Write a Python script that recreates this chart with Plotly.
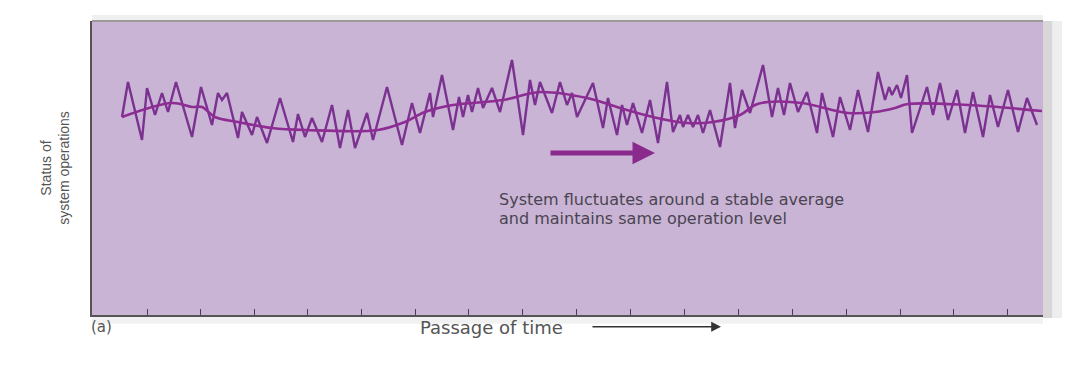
import plotly.graph_objects as go

# Jagged "status" series (time units, status units)
jag_t = [30, 36, 50, 55, 63, 70, 76, 84, 100, 109, 120, 126, 130, 135, 146, 150, 160, 165, 175, 188,
         201, 206, 213, 220, 230, 240, 248, 256, 263, 275, 281, 295, 310, 320, 328, 338, 341, 350, 361, 367,
         371, 376, 380, 386, 391, 400, 408, 420, 431, 438, 443, 448, 460, 468, 475, 480, 485, 501, 511, 516,
         525, 530, 535, 541, 550, 558, 566, 575, 581, 588, 591, 596, 601, 606, 611, 618, 628, 638, 643, 650,
         658, 671, 680, 686, 692, 698, 706, 715, 725, 730, 741, 748, 758, 766, 776, 786, 793, 797, 800, 805,
         809, 815, 820, 835, 841, 848, 856, 865, 873, 881, 891, 898, 906, 916, 926, 935, 945]
jag_s = [198, 233, 175, 227, 200, 222, 203, 233, 178, 228, 190, 222, 215, 222, 177, 203, 180, 198, 172, 217,
         173, 201, 178, 197, 173, 210, 167, 205, 167, 202, 175, 228, 170, 212, 182, 222, 198, 240, 185, 218,
         198, 220, 203, 227, 207, 227, 203, 255, 180, 235, 210, 233, 202, 233, 210, 222, 198, 232, 187, 217,
         180, 210, 190, 212, 182, 215, 172, 233, 183, 200, 188, 200, 188, 200, 182, 205, 168, 232, 187, 225,
         202, 250, 198, 227, 200, 232, 203, 223, 182, 222, 178, 218, 185, 225, 183, 243, 215, 228, 220, 230,
         217, 240, 182, 228, 200, 232, 195, 225, 182, 223, 178, 220, 188, 225, 183, 217, 190]

# Smooth average series
avg_t = [30, 80, 100, 110, 123, 146, 180, 213, 286, 313, 333, 361, 411, 448, 495, 528, 561, 595, 621, 648,
         663, 676, 710, 756, 783, 803, 816, 876, 950]
avg_s = [198, 212, 208, 208, 198, 193, 187, 185, 185, 193, 203, 210, 215, 223, 217, 207, 198, 192, 193, 200,
         210, 213, 212, 202, 203, 207, 211, 210, 204]

tick_vals = [55, 108, 162, 215, 269, 323, 376, 430, 484, 538, 592, 646, 700, 754, 808, 861, 915]

note_lines = ["System fluctuates around a stable average", "and maintains same operation level"]

PLOT_BG = "#c9b4d5"
JAG_COLOR = "#7b3190"
AVG_COLOR = "#8d2c92"

fig = go.Figure()
fig.add_trace(go.Scatter(x=jag_t, y=jag_s, mode="lines",
                         line=dict(color=JAG_COLOR, width=2.4), hoverinfo="skip", showlegend=False))
fig.add_trace(go.Scatter(x=avg_t, y=avg_s, mode="lines", line_shape="spline",
                         line=dict(color=AVG_COLOR, width=2.6), hoverinfo="skip", showlegend=False))

annotations = [
    # thick purple arrow
    dict(x=563, y=162, ax=457, ay=162, xref="x", yref="y", axref="x", ayref="y",
         showarrow=True, arrowhead=2, arrowsize=0.9, arrowwidth=5, arrowcolor="#8a2a8c", text=""),
    dict(x=405, y=116, xref="x", yref="y", xanchor="left", yanchor="middle", align="left",
         text=note_lines[0], showarrow=False,
         font=dict(family="DejaVu Sans", size=16, color="#4a4450")),
    dict(x=405, y=97, xref="x", yref="y", xanchor="left", yanchor="middle", align="left",
         text=note_lines[1], showarrow=False,
         font=dict(family="DejaVu Sans", size=16, color="#4a4450")),
    dict(x=-0.003, y=-0.005, xref="paper", yref="paper", xanchor="left", yanchor="top",
         text="(a)", showarrow=False, font=dict(family="DejaVu Sans", size=15, color="#555555")),
    dict(x=0.42, y=-0.0, xref="paper", yref="paper", xanchor="center", yanchor="top",
         text="Passage of time", showarrow=False,
         font=dict(family="DejaVu Sans", size=18, color="#555555")),
    dict(x=629, y=-0.04, xref="x", yref="paper", ax=-130, ay=0, axref="pixel", ayref="pixel",
         showarrow=True, arrowhead=2, arrowsize=1.4, arrowwidth=1.4, arrowcolor="#333333", text=""),
]

shapes = [
    # top shadow
    dict(type="rect", xref="paper", yref="paper", x0=0, x1=1.0, y0=1.0, y1=1.02,
         fillcolor="#e8e8e8", line=dict(width=0), opacity=0.7, layer="below"),
    # top border
    dict(type="line", xref="paper", yref="paper", x0=0, x1=1, y0=1, y1=1,
         line=dict(color="#9a9a9a", width=2)),
    # right edge shadow
    dict(type="rect", xref="paper", yref="paper", x0=1.0, x1=1.01, y0=-0.01, y1=1.0,
         fillcolor="#bdbdbd", line=dict(width=0), opacity=0.6),
    dict(type="rect", xref="paper", yref="paper", x0=1.01, x1=1.02, y0=-0.01, y1=1.0,
         fillcolor="#e2e2e2", line=dict(width=0), opacity=0.6),
    # bottom shadow
    dict(type="rect", xref="paper", yref="paper", x0=0, x1=1.0, y0=-0.03, y1=0,
         fillcolor="#e8e8e8", line=dict(width=0), opacity=0.6, layer="below"),
]

fig.update_layout(
    width=1072, height=378,
    margin=dict(l=92, r=29, t=21, b=63),
    paper_bgcolor="white", plot_bgcolor=PLOT_BG,
    annotations=annotations, shapes=shapes,
    showlegend=False,
    xaxis=dict(range=[0, 951], showgrid=False, zeroline=False, showline=True,
               linecolor="#555555", linewidth=2, tickvals=tick_vals, ticks="inside",
               ticklen=6, tickwidth=1.3, tickcolor="#444444", showticklabels=False, fixedrange=True),
    yaxis=dict(range=[0, 294], showgrid=False, zeroline=False, showline=True,
               linecolor="#555555", linewidth=2, showticklabels=False, ticks="",
               title=dict(text="Status of<br>system operations", standoff=17,
                          font=dict(family="Liberation Sans", size=14, color="#555555")),
               fixedrange=True),
)

fig.write_html("out.html")
